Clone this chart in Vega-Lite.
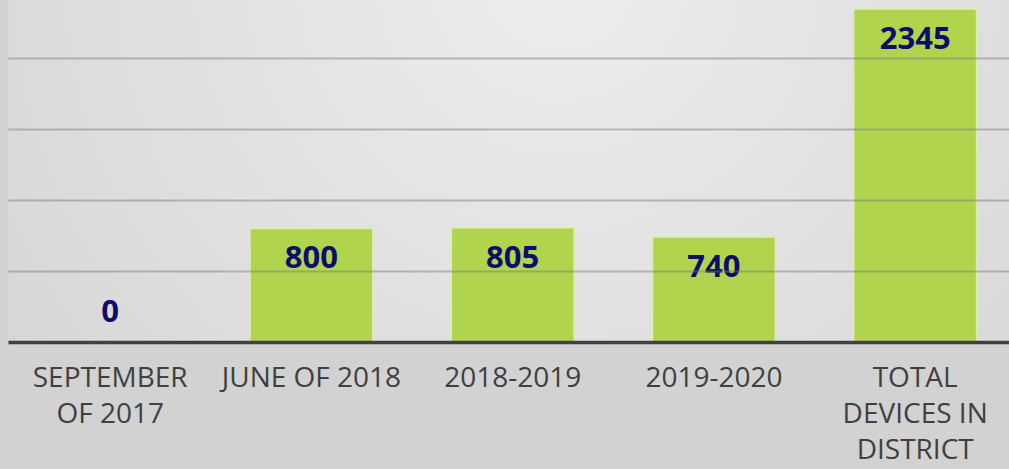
{
  "$schema": "https://vega.github.io/schema/vega-lite/v6.json",
  "autosize": {"type": "none"},
  "width": 1001,
  "height": 342,
  "padding": {"left": 8, "top": 0, "right": 0, "bottom": 127},
  "background": "#d2d2d2",
  "data": {"values": [
    {"cat": "SEPTEMBER OF 2017", "value": 0},
    {"cat": "JUNE OF 2018", "value": 800},
    {"cat": "2018-2019", "value": 805},
    {"cat": "2019-2020", "value": 740},
    {"cat": "TOTAL DEVICES IN DISTRICT", "value": 2345}
  ]},
  "config": {
    "view": {"stroke": null, "fill": {"gradient": "radial", "x1": 0.55, "y1": 0.3, "x2": 0.55, "y2": 0.3, "r1": 0, "r2": 0.8, "stops": [{"offset": 0, "color": "#ededed"}, {"offset": 1, "color": "#d2d2d2"}]}}
  },
  "encoding": {
    "x": {"field": "cat", "type": "nominal", "sort": null,
      "scale": {"paddingInner": 0.39, "paddingOuter": 0.182, "align": 0.557},
      "axis": {"title": null, "labelAngle": 0, "ticks": false, "domainColor": "#404040", "domainWidth": 3.5, "zindex": 2,
        "labelFont": "Open Sans", "labelFontSize": 28, "labelColor": "#404040", "labelPadding": 22, "labelLineHeight": 36, "labelBaseline": "top",
        "labelLimit": 400, "labelOverlap": false,
        "labelExpr": "datum.value == 'SEPTEMBER OF 2017' ? ['SEPTEMBER', 'OF 2017'] : datum.value == 'TOTAL DEVICES IN DISTRICT' ? ['TOTAL', 'DEVICES IN', 'DISTRICT'] : datum.value"}},
    "y": {"field": "value", "type": "quantitative",
      "scale": {"domain": [0, 2408], "nice": false},
      "axis": {"title": null, "labels": false, "ticks": false, "domain": false, "values": [500, 1000, 1500, 2000], "grid": true, "gridColor": "#777777", "gridOpacity": 0.45, "gridWidth": 2, "zindex": 1}}
  },
  "layer": [
    {"mark": {"type": "bar", "color": "#b0d44e", "stroke": "#dcedb0", "strokeWidth": 1.5}},
    {"transform": [{"filter": "datum.value > 0"}],
     "mark": {"type": "text", "dy": 31, "font": "Open Sans", "fontWeight": "bold", "fontSize": 31, "color": "#0d0d6e", "baseline": "middle"},
     "encoding": {"text": {"field": "value", "type": "quantitative"}}},
    {"transform": [{"filter": "datum.value == 0"}],
     "mark": {"type": "text", "dy": -29, "font": "Open Sans", "fontWeight": "bold", "fontSize": 31, "color": "#0d0d6e", "baseline": "middle"},
     "encoding": {"text": {"field": "value", "type": "quantitative"}}}
  ]
}
